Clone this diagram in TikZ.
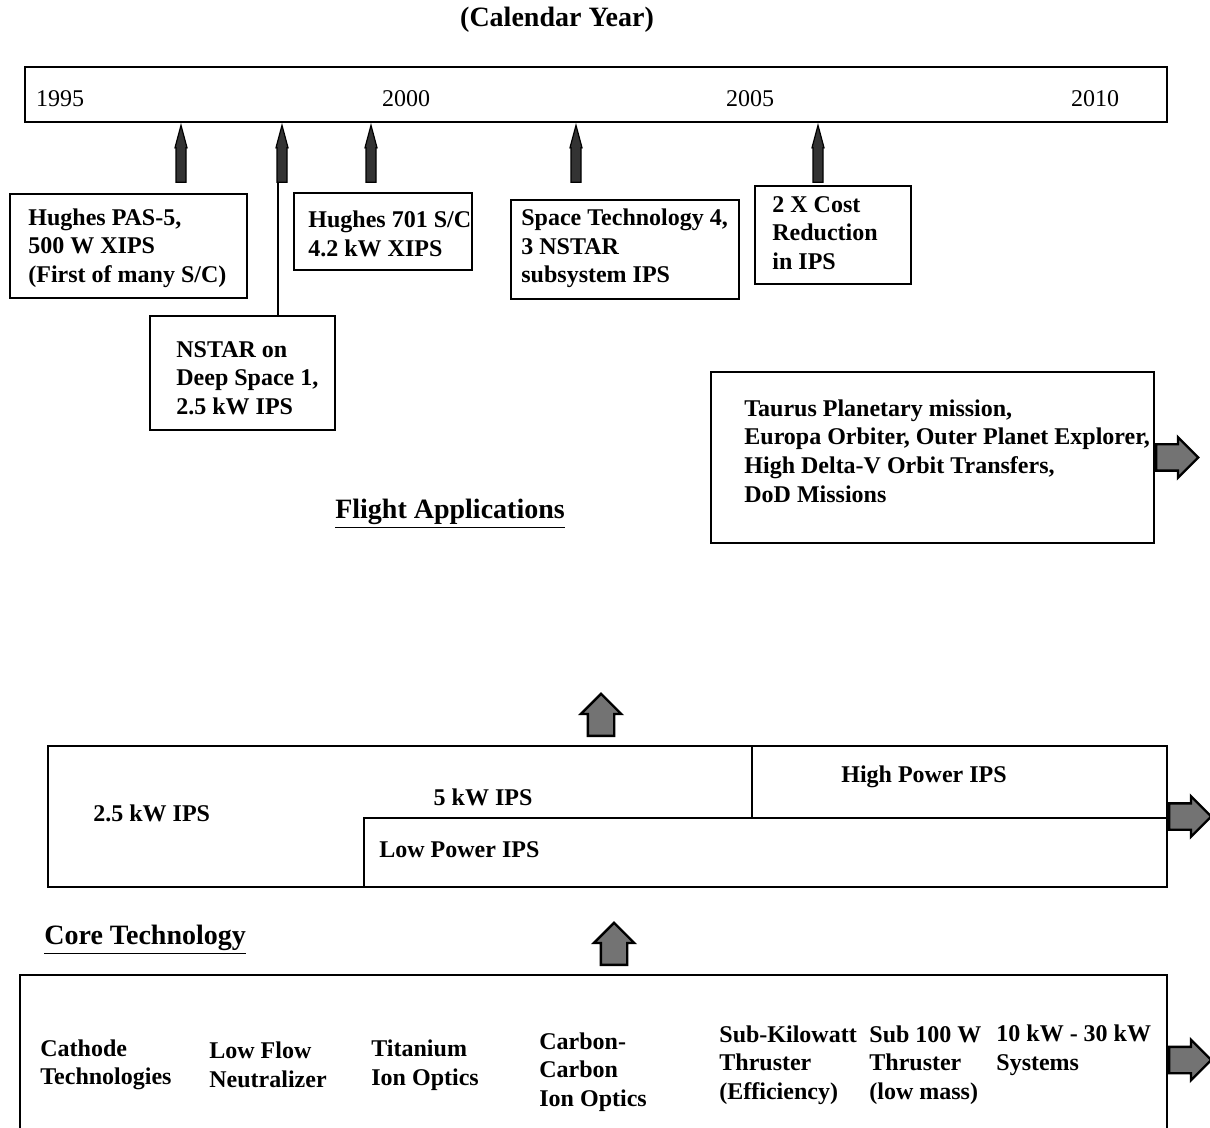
\documentclass[tikz,border=0pt]{standalone}
\usepackage{fontspec}
\setmainfont{Liberation Serif}
\usetikzlibrary{shapes.arrows}

\newcommand{\boxfont}{\fontsize{12}{14.3}\selectfont\bfseries}
\newcommand{\headfont}{\fontsize{14}{16}\selectfont\bfseries}

\tikzset{
  every node/.style={font=\fontsize{12}{14.3}\selectfont},
  box/.style={draw, line width=1pt, inner sep=0pt},
  txt/.style={font=\boxfont, align=left, inner sep=0pt, anchor=west},
  tick/.style={single arrow, draw=black, fill=black!80, line width=0.6pt, rotate=90,
    minimum height=28.5pt, minimum width=5.4pt, inner sep=2.2pt,
    single arrow head extend=0.5pt, single arrow tip angle=30},
  fatarrow/.style={single arrow, draw=black, line width=1.2pt, fill=black!55,
    minimum height=21pt, minimum width=19pt, inner sep=6pt,
    single arrow head extend=3.5pt}
}

\begin{document}
\begin{tikzpicture}[x=0.5pt, y=-0.5pt]
  \useasboundingbox (0,0) rectangle (1210,1128);

  \node[font=\headfont] (cal) at (557,20) {(Calendar Year)};

  % time line
  \node[box, line width=1.2pt, minimum width=571pt, minimum height=27.5pt] (line) at (596,94.5) {};
  \node (y1995) at (60,99) {1995};
  \node (y2000) at (406,99) {2000};
  \node (y2005) at (750,99) {2005};
  \node (y2010) at (1095,99) {2010};

  \node[tick, anchor=tip] (t1) at (181,123) {};
  \node[tick, anchor=tip] (t2) at (282,123) {};
  \node[tick, anchor=tip] (t3) at (371,123) {};
  \node[tick, anchor=tip] (t4) at (576,123) {};
  \node[tick, anchor=tip] (t5) at (818,123) {};

  % flight applications
  \node[box, minimum width=118.5pt, minimum height=52pt] (pas5) at (128.5,246) {};
  \node[txt] (pas5t) at (28,248) {Hughes PAS-5,\\500 W XIPS\\(First of many S/C)};
  \node[box, minimum width=92.5pt, minimum height=57pt] (nstar) at (242.5,373) {};
  \node[txt] (nstart) at (176,378) {NSTAR on\\Deep Space 1,\\2.5 kW IPS};
  \node[box, minimum width=89pt, minimum height=38.5pt] (h701) at (383,231.5) {};
  \node[txt] (h701t) at (308,234) {Hughes 701 S/C\\4.2 kW XIPS};
  \node[box, minimum width=114pt, minimum height=49.5pt] (st4) at (625,249.5) {};
  \node[txt] (st4t) at (521,248.5) {Space Technology 4,\\3 NSTAR\\subsystem IPS};
  \node[box, minimum width=78pt, minimum height=49pt] (cost) at (833,235) {};
  \node[txt] (costt) at (772,233) {2 X Cost\\Reduction\\in IPS};
  \node[box, minimum width=221.5pt, minimum height=85.5pt] (taurus) at (932.5,457.5) {};
  \node[txt] (taurust) at (744,451) {Taurus Planetary mission,\\Europa Orbiter, Outer Planet Explorer,\\High Delta-V Orbit Transfers,\\DoD Missions};
  \node[fatarrow, anchor=tail] (go1) at (taurus.east) {};

  \draw[line width=0.8pt] ([xshift=-2pt]t2.tail) -- ([xshift=-2pt]t2.tail |- nstar.north);

  \node[font=\headfont] (flight) at (450,514) {\underline{Flight Applications}};

  % ion propulsion systems
  \node[fatarrow, rotate=90, anchor=tail] (up1) at (601,737) {};
  \node[box, minimum width=559.5pt, minimum height=70.5pt] (ips) at (607.5,816.5) {};
  \node[box, minimum width=207.5pt, minimum height=36pt] (highpow) at (959.5,782) {};
  \node[box, minimum width=401.5pt, minimum height=34.5pt] (lowpow) at (765.5,852.5) {};
  \node[txt] (kw25) at (93,813) {2.5 kW IPS};
  \node[font=\boxfont] (kw5) at (483,797) {5 kW IPS};
  \node[font=\boxfont] (highpowt) at (924,777) {High Power IPS};
  \node[txt] (lowpowt) at (379,850) {Low Power IPS};
  \node[fatarrow, anchor=tail] (go2) at (ips.east) {};

  % core technology
  \node[font=\headfont, anchor=west, inner sep=0pt] (core) at (44,940) {\underline{Core Technology}};
  \node[fatarrow, rotate=90, anchor=tail] (up2) at (614,966) {};
  \node[box, minimum width=573.5pt, minimum height=85pt] (tech) at (593.5,1060) {};
  \node[txt] (cathode) at (40,1065) {Cathode\\Technologies};
  \node[txt] (lowflow) at (209,1065) {Low Flow\\Neutralizer};
  \node[txt] (titan) at (371,1065) {Titanium\\Ion Optics};
  \node[txt] (carbon) at (539,1072) {Carbon-\\Carbon\\Ion Optics};
  \node[txt] (subkw) at (719,1065) {Sub-Kilowatt\\Thruster\\(Efficiency)};
  \node[txt] (sub100) at (869,1065) {Sub 100 W\\Thruster\\(low mass)};
  \node[txt] (tenkw) at (996,1050) {10 kW - 30 kW\\Systems};
  \node[fatarrow, anchor=tail] (go3) at (tech.east) {};
\end{tikzpicture}
\end{document}
